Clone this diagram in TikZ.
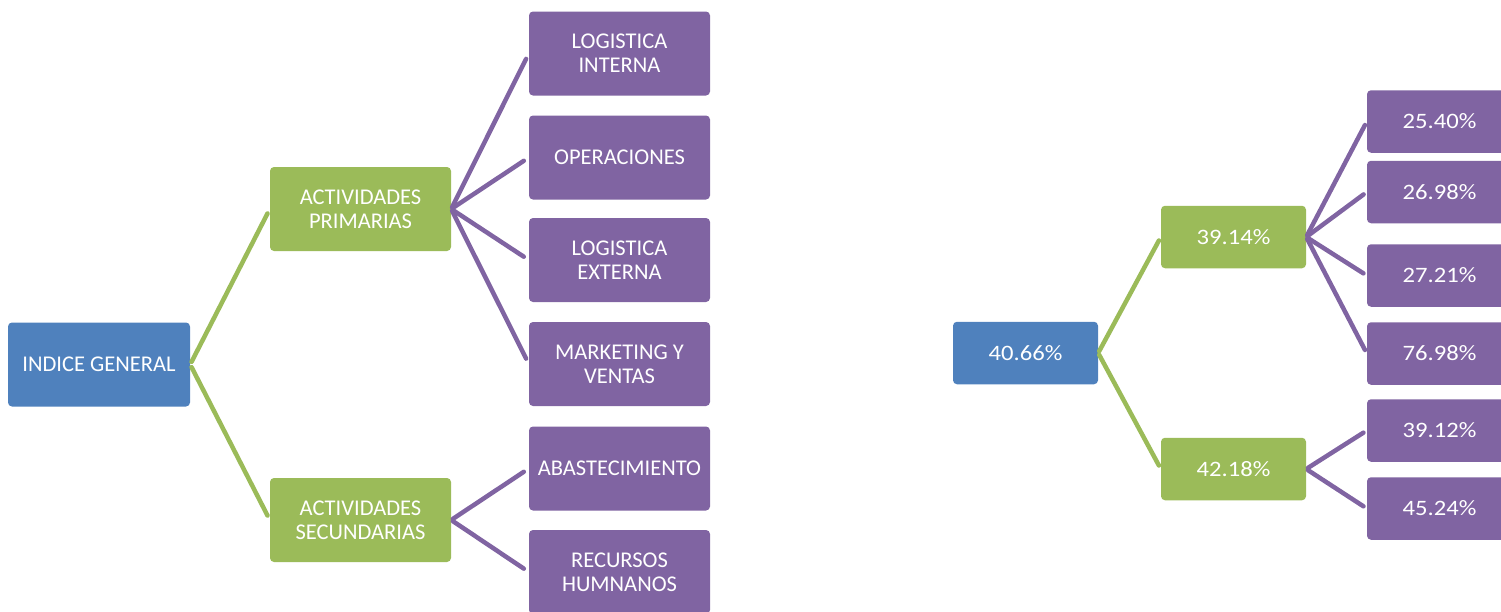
\documentclass[tikz,border=0pt]{standalone}
\usepackage{fontspec}
\setmainfont{Carlito}
\newfontfamily\numfont{Carlito}[FakeStretch=1.12]
\definecolor{cblue}{HTML}{4F81BD}
\definecolor{cgreen}{HTML}{9BBB59}
\definecolor{cpurple}{HTML}{8064A2}
\tikzset{
  box/.style={rounded corners=4pt, text=white, align=center, inner sep=0pt,
    font=\fontsize{22.5}{24}\selectfont},
  lbox/.style={box, minimum width=181pt, minimum height=84pt},
  rbox/.style={box, minimum width=145pt, minimum height=62.5pt,
    font=\numfont\fontsize{22}{24}\selectfont},
  bluebox/.style={fill=cblue},
  greenbox/.style={fill=cgreen},
  purplebox/.style={fill=cpurple},
  gline/.style={draw=cgreen, line width=4.5pt, line cap=round},
  pline/.style={draw=cpurple, line width=4.5pt, line cap=round}
}
\begin{document}
\begin{tikzpicture}[x=1pt,y=-1pt]
\useasboundingbox (0,0) rectangle (1501,611);
% ---------------- left tree ----------------
\node[lbox,bluebox, minimum width=182pt] (ig) at (99,364.5) {INDICE GENERAL};
\node[lbox,greenbox] (ap) at (360.5,209) {ACTIVIDADES\\PRIMARIAS};
\node[lbox,greenbox] (as) at (360.5,520) {ACTIVIDADES\\SECUNDARIAS};
\node[lbox,purplebox] (li) at (619.5,53.5) {LOGISTICA\\INTERNA};
\node[lbox,purplebox] (op) at (619.5,157.5) {OPERACIONES};
\node[lbox,purplebox] (le) at (619.5,260) {LOGISTICA\\EXTERNA};
\node[lbox,purplebox] (mv) at (619.5,364) {MARKETING Y\\VENTAS};
\node[lbox,purplebox] (ab) at (619.5,468.5) {ABASTECIMIENTO};
\node[lbox,purplebox] (rh) at (619.5,572) {RECURSOS\\HUMNANOS};
\draw[gline, shorten <=3pt, shorten >=5pt] (ig.east) -- (ap.west);
\draw[gline, shorten <=3pt, shorten >=5pt] (ig.east) -- (as.west);
\foreach \t in {li,op,le,mv}
  \draw[pline, shorten <=2pt, shorten >=6pt] (ap.east) -- (\t.west);
\foreach \t in {ab,rh}
  \draw[pline, shorten <=2pt, shorten >=6pt] (as.east) -- (\t.west);
% ---------------- right tree ----------------
\node[rbox,bluebox] (r0) at (1025.5,353) {40.66\%};
\node[rbox,greenbox] (r1) at (1233.5,237) {39.14\%};
\node[rbox,greenbox] (r2) at (1233.5,469) {42.18\%};
\node[rbox,purplebox] (p1) at (1439.5,121.5) {25.40\%};
\node[rbox,purplebox] (p2) at (1439.5,192) {26.98\%};
\node[rbox,purplebox] (p3) at (1439.5,275.5) {27.21\%};
\node[rbox,purplebox] (p4) at (1439.5,353.5) {76.98\%};
\node[rbox,purplebox] (p5) at (1439.5,430.5) {39.12\%};
\node[rbox,purplebox] (p6) at (1439.5,508.5) {45.24\%};
\draw[gline, shorten <=2pt, shorten >=4pt] (r0.east) -- (r1.west);
\draw[gline, shorten <=2pt, shorten >=4pt] (r0.east) -- (r2.west);
\foreach \t in {p1,p2,p3,p4}
  \draw[pline, shorten <=2pt, shorten >=4pt] (r1.east) -- (\t.west);
\foreach \t in {p5,p6}
  \draw[pline, shorten <=2pt, shorten >=4pt] (r2.east) -- (\t.west);
\end{tikzpicture}
\end{document}
